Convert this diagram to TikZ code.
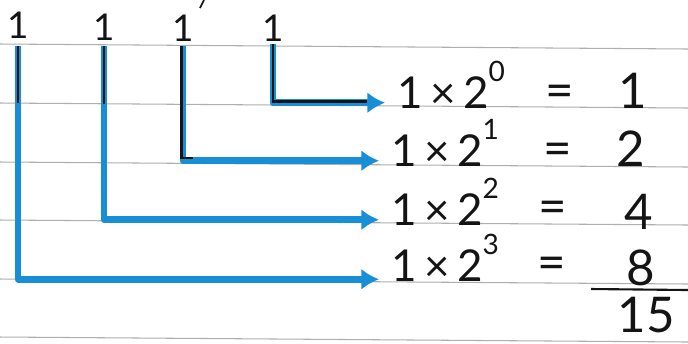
\documentclass[tikz,border=0pt]{standalone}
\usepackage{fontspec}
\setmainfont{Lato}
\usepackage{tikz}
\usetikzlibrary{arrows.meta, calc}
\definecolor{penblue}{RGB}{24,142,214}
\definecolor{rulegray}{RGB}{120,120,120}
\definecolor{ink}{RGB}{20,20,20}
\tikzstyle{ruled} = [draw=rulegray!60, line width=0.6pt]
\tikzstyle{link} = [draw=penblue, line width=3.8pt, line join=round, -{Latex[length=10pt, width=12pt]}]
\tikzstyle{core} = [draw=ink, line width=1.6pt]
\tikzstyle{bit} = [inner sep=0pt, text=ink, font=\fontsize{21}{21}\selectfont]
\tikzstyle{term} = [anchor=base west, inner xsep=7pt, inner ysep=0pt, text=ink, font=\fontsize{25}{25}\selectfont]
\tikzstyle{result} = [anchor=base, inner sep=0pt, text=ink, font=\fontsize{28}{28}\selectfont]
\newcommand{\expo}[1]{\raisebox{0.6em}{\fontsize{16}{16}\selectfont #1}}

\begin{document}
\begin{tikzpicture}[x=0.02cm, y=-0.02cm]
  \useasboundingbox (0,0) rectangle (688,343);

  % Ruled lines
  \foreach \y in {44,103,162,220,279,337}
    \draw[ruled] (0,\y) -- (688,\y+5);

  % Binary digits
  \node[bit] (d3) at (18,25) {1};
  \node[bit] (d2) at (104,27) {1};
  \node[bit] (d1) at (183,28) {1};
  \node[bit] (d0) at (273,28) {1};
  \draw[core, line width=1pt] (204,0) -- (200,8);

  % Products
  \node[term] (e0) at (385,108) {1\,×\,2\expo{0}};
  \node[term] (e1) at (379,166) {1\,×\,2\expo{1}};
  \node[term] (e2) at (379,225) {1\,×\,2\expo{2}};
  \node[term] (e3) at (379,281) {1\,×\,2\expo{3}};

  % Equals signs
  \node[result] (q0) at (560,107) {=};
  \node[result] (q1) at (558,165) {=};
  \node[result] (q2) at (553,223) {=};
  \node[result] (q3) at (552,279) {=};

  % Values
  \node[result] (r0) at (633,108) {1};
  \node[result] (r1) at (631,166) {2};
  \node[result] (r2) at (639,229) {4};
  \node[result] (r3) at (641,285) {8};
  \draw[core, line width=1.2pt] (591,289) -- (688,290);
  \node[result] (sum) at (646,332) {15};

  % Column tops
  \coordinate (c3) at (18,46);
  \coordinate (c2) at (104,46);
  \coordinate (c1) at (183,46);
  \coordinate (c0) at (273,44);

  % Links
  \draw[link] (c0) |- ([yshift=3pt]e0.base west);
  \draw[link] (c1) |- ([yshift=3pt]e1.base west);
  \draw[link] (c2) |- ([yshift=3pt]e2.base west);
  \draw[link] (c3) |- ([yshift=1pt]e3.base west);

  % Black pen
  \draw[core] (c3) -- ++(0,57);
  \draw[core] (c2) -- ++(0,58);
  \draw[core] ([xshift=-1pt]c1) -- ++(0,112) -- ++(12,0);
  \draw[core, shorten >=10pt] (c0) |- ([yshift=3.6pt]e0.base west);

\end{tikzpicture}
\end{document}
